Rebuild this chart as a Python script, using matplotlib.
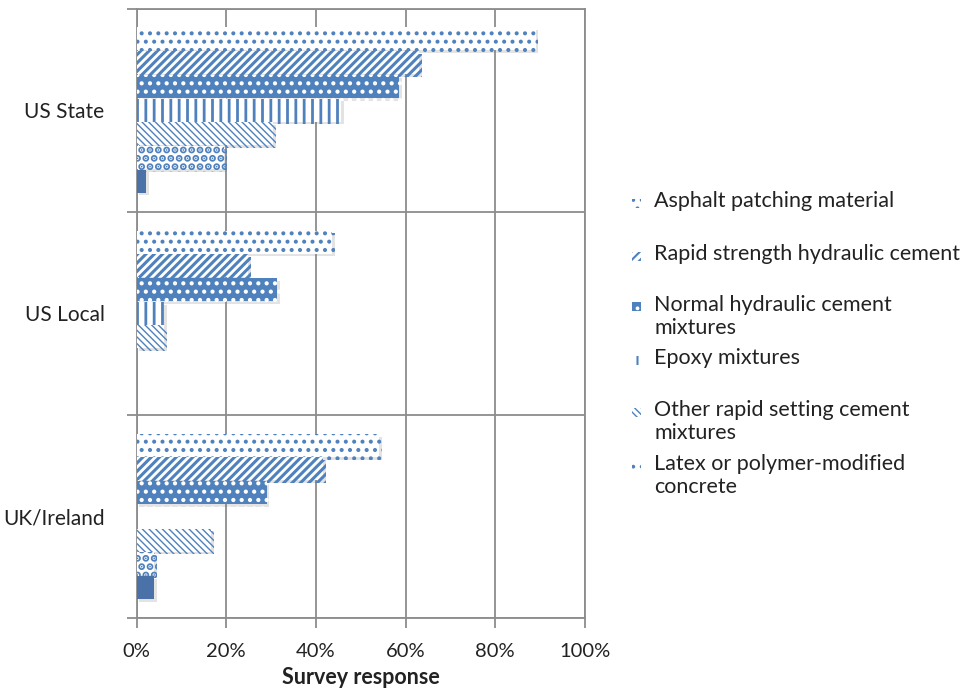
import matplotlib
matplotlib.use("Agg")
import matplotlib.pyplot as plt
import matplotlib.patheffects as pe
from matplotlib.patches import Rectangle
import numpy as np

categories = ["US State", "US Local", "UK/Ireland"]
series_names = ["Asphalt patching material", "Rapid strength hydraulic cement",
                "Normal hydraulic cement\nmixtures", "Epoxy mixtures",
                "Other rapid setting cement\nmixtures", "Latex or polymer-modified\nconcrete",
                "Other"]
asphalt = [0.89, 0.437, 0.541]
rapid = [0.63, 0.249, 0.416]
normal = [0.585, 0.313, 0.290]
epoxy = [0.457, 0.062, 0.0]
other_rapid = [0.304, 0.062, 0.166]
latex = [0.196, 0.0, 0.040]
other = [0.022, 0.0, 0.040]
values = [asphalt, rapid, normal, epoxy, other_rapid, latex, other]
xticks = [0, 0.2, 0.4, 0.6, 0.8, 1.0]
xticklabels = ["0%", "20%", "40%", "60%", "80%", "100%"]

BLUE = "#4F81BD"
DARK = "#4A72A8"
GRID = "#8C8C8C"
TXT = "#222222"
# (facecolor, hatch colour, hatch, hatch linewidth)
styles = [
    ("white", BLUE, "..", 1.7),
    ("white", BLUE, "////", 2.2),
    (BLUE, "white", "..", 1.8),
    ("white", BLUE, "||", 2.0),
    ("white", BLUE, "\\\\\\\\\\", 1.0),
    ("white", BLUE, "..", 3.6),
    (DARK, DARK, "", 1.0),
]

plt.rcParams['font.family'] = ['Lato', 'DejaVu Sans']
fig = plt.figure(figsize=(9.75, 6.94), dpi=100)
ax = fig.add_axes([136.5/975, 1-618/694, (585-136.5)/975, (618-8.5)/694])

n = len(values)
band = 0.817
h = band / n
y = np.arange(len(categories))
shadow = [pe.SimplePatchShadow(offset=(2, -2), shadow_rgbFace="#808080", alpha=0.22), pe.Normal()]
for j, (vals, (fc, hc, hatch, hlw)) in enumerate(zip(values, styles)):
    pos = y - band/2 + (j + 0.5) * h
    with plt.rc_context({'hatch.linewidth': hlw}):
        bars = ax.barh(pos, vals, height=h*0.97, color=fc, edgecolor=hc, hatch=hatch,
                       linewidth=0, zorder=3)
    for b in bars:
        try:
            b.set_hatch_linewidth(hlw)
        except Exception:
            pass
        if b.get_width() > 0:
            b.set_path_effects(shadow)

ax.set_xlim(0, 1.0)
ax.set_ylim(2.5, -0.5)
ax.set_xticks(xticks)
ax.set_xticklabels(xticklabels, fontsize=14.5, color=TXT)
ax.set_yticks(y)
ax.set_yticklabels(categories, fontsize=15, color=TXT)
ax.set_yticks([-0.5, 0.5, 1.5, 2.5], minor=True)
ax.tick_params(axis='y', which='major', length=0, pad=23)
ax.tick_params(axis='y', which='minor', length=7, color=GRID, width=1.3)
ax.tick_params(axis='x', which='major', length=7, color=GRID, width=1.3, pad=11)
ax.grid(axis='x', which='major', color=GRID, linewidth=1.3, zorder=0)
ax.grid(axis='y', which='minor', color=GRID, linewidth=1.3, zorder=0)
for s in ax.spines.values():
    s.set_color(GRID)
    s.set_linewidth(1.3)
ax.set_xlabel("Survey response", fontsize=15.5, fontweight='bold', color=TXT, labelpad=5)

# legend (first six series)
leg_y = [203, 256, 307, 360, 412, 466]
for j in range(6):
    fc, hc, hatch, hlw = styles[j]
    yy = 1 - leg_y[j]/694
    with plt.rc_context({'hatch.linewidth': min(hlw, 1.5)}):
        r = Rectangle((632/975, yy - 4.5/694), 9/975, 9/694, transform=fig.transFigure,
                      facecolor=fc, edgecolor=hc, hatch=hatch, linewidth=0)
    fig.add_artist(r)
    fig.text(654/975, yy + 12/694, series_names[j], fontsize=15.5, color=TXT,
             va='top', ha='left', transform=fig.transFigure, linespacing=1.2)

fig.savefig("out.png", dpi=100)
